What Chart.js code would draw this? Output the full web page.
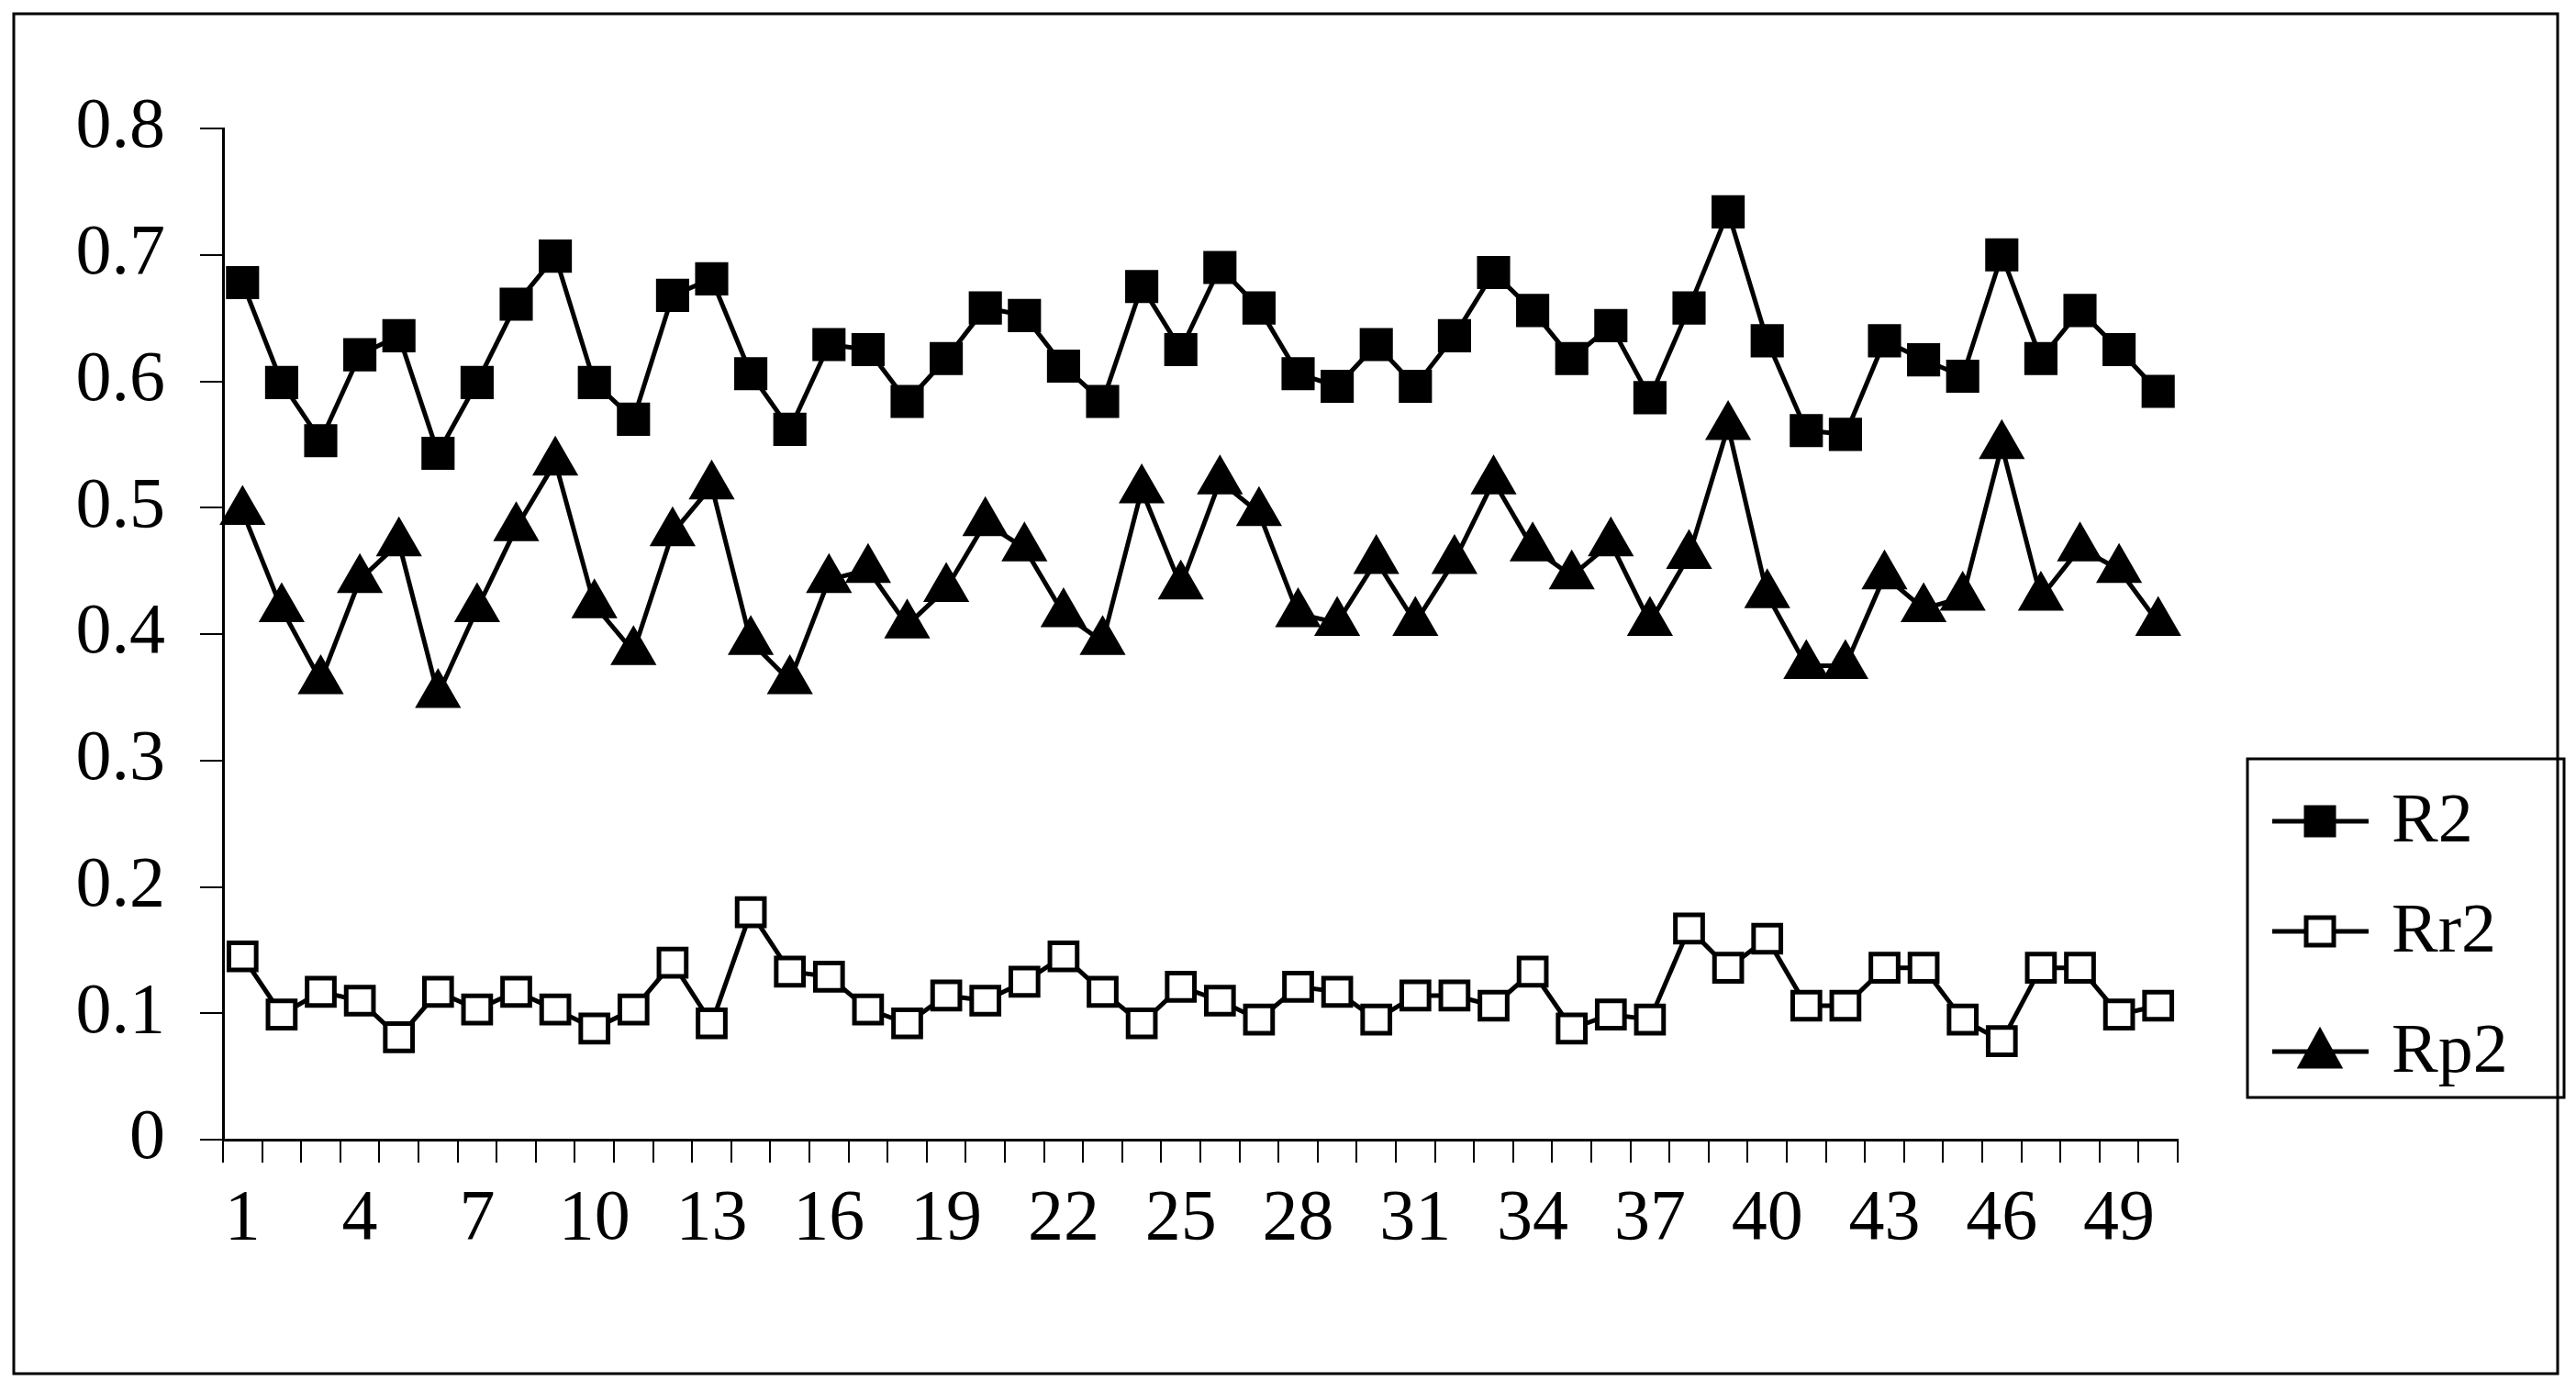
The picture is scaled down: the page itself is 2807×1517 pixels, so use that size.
<!DOCTYPE html>
<html><head><meta charset="utf-8">
<script src="https://cdn.jsdelivr.net/npm/chart.js@4"></script>
<style>html,body{margin:0;padding:0;background:#fff}#w{width:2807px;height:1517px}</style>
</head><body><div id="w"><canvas id="c"></canvas></div>
<script>
const categories = Array.from({length:50},(_,i)=>String(i+1));
const tickLabels = ['1','4','7','10','13','16','19','22','25','28','31','34','37','40','43','46','49'];
const R2 = [.678,.599,.553,.621,.636,.543,.599,.661,.699,.599,.570,.668,.681,.606,.562,.629,.625,.584,.618,.658,.652,.612,.584,.675,.625,.690,.658,.606,.596,.629,.596,.636,.686,.656,.618,.644,.587,.658,.734,.632,.561,.558,.632,.617,.604,.700,.618,.656,.625,.592];
const Rr2 = [.145,.099,.117,.110,.081,.117,.103,.117,.103,.088,.103,.140,.092,.180,.133,.129,.103,.092,.114,.110,.125,.145,.117,.092,.121,.110,.095,.121,.117,.095,.114,.114,.106,.133,.088,.099,.095,.167,.136,.159,.106,.106,.136,.136,.095,.078,.136,.136,.099,.106];
const Rp2 = [.497,.420,.363,.443,.472,.352,.420,.484,.536,.423,.386,.480,.517,.394,.363,.443,.451,.407,.436,.488,.468,.416,.394,.514,.438,.521,.496,.416,.409,.458,.409,.458,.521,.468,.446,.472,.409,.462,.564,.431,.375,.375,.446,.420,.429,.549,.429,.468,.451,.409];
const FONT = '"Liberation Serif","Times New Roman",serif';
const series = [
  {label:'R2', data:R2, pointStyle:'rect', pointRadius:22, pointBackgroundColor:'#000'},
  {label:'Rr2', data:Rr2, pointStyle:'rect', pointRadius:21, pointBackgroundColor:'#fff'},
  {label:'Rp2', data:Rp2, pointStyle:'triangle', pointRadius:24, pointBackgroundColor:'#000'}
];
const frame = {
  id:'frame',
  afterDraw(chart){
    const ctx = chart.ctx;
    ctx.save();
    ctx.strokeStyle='#000'; ctx.lineWidth=3;
    ctx.strokeRect(15,15,2772,1482);
    ctx.strokeRect(2449,827,345,369);
    const ys=[895,1015,1146];
    ctx.font='76px '+FONT; ctx.textBaseline='middle'; ctx.fillStyle='#000';
    series.forEach((s,i)=>{
      const y=ys[i];
      ctx.strokeStyle='#000'; ctx.lineWidth=5; ctx.beginPath(); ctx.moveTo(2476,y); ctx.lineTo(2581,y); ctx.stroke();
      ctx.fillStyle=s.pointBackgroundColor; ctx.lineWidth=5;
      if(s.pointStyle==='rect'){ ctx.fillRect(2513,y-15,30,30); ctx.strokeRect(2513,y-15,30,30); }
      else { ctx.beginPath(); ctx.moveTo(2528,y-22); ctx.lineTo(2549,y+16); ctx.lineTo(2507,y+16); ctx.closePath(); ctx.fill(); ctx.stroke(); }
      ctx.fillStyle='#000';
      ctx.fillText(s.label,2606,y+2);
    });
    ctx.restore();
  }
};
new Chart(document.getElementById('c'),{
  type:'line',
  data:{labels:categories, datasets:series.map(s=>({
    label:s.label, data:s.data, borderColor:'#000', borderWidth:5, tension:0,
    pointStyle:s.pointStyle, pointRadius:s.pointRadius, pointBackgroundColor:s.pointBackgroundColor,
    pointBorderColor:'#000', pointBorderWidth:5, pointHoverRadius:s.pointRadius
  }))},
  options:{
    responsive:true, maintainAspectRatio:false, animation:false, devicePixelRatio:1,
    layout:{padding:{top:140,right:434,left:0,bottom:0}},
    plugins:{legend:{display:false},tooltip:{enabled:false}},
    scales:{
      x:{offset:true,
        grid:{offset:true,drawOnChartArea:false,drawTicks:true,tickLength:25,color:'#000',lineWidth:2},
        border:{color:'#000',width:3},
        ticks:{autoSkip:false,maxRotation:0,color:'#000',padding:16,font:{family:FONT,size:78},
          callback:(v,i)=>tickLabels.includes(categories[i])?categories[i]:''},
        afterFit:s=>{s.height=275;}
      },
      y:{min:0,max:0.8,
        grid:{drawOnChartArea:false,drawTicks:true,tickLength:25,color:'#000',lineWidth:2},
        border:{color:'#000',width:3},
        ticks:{stepSize:0.1,color:'#000',padding:38,font:{family:FONT,size:78},
          callback:v=>Math.abs(v)<1e-9?'0':String(Math.round(v*10)/10)},
        afterFit:s=>{s.width=243;}
      }
    }
  },
  plugins:[frame]
});
</script></body></html>
